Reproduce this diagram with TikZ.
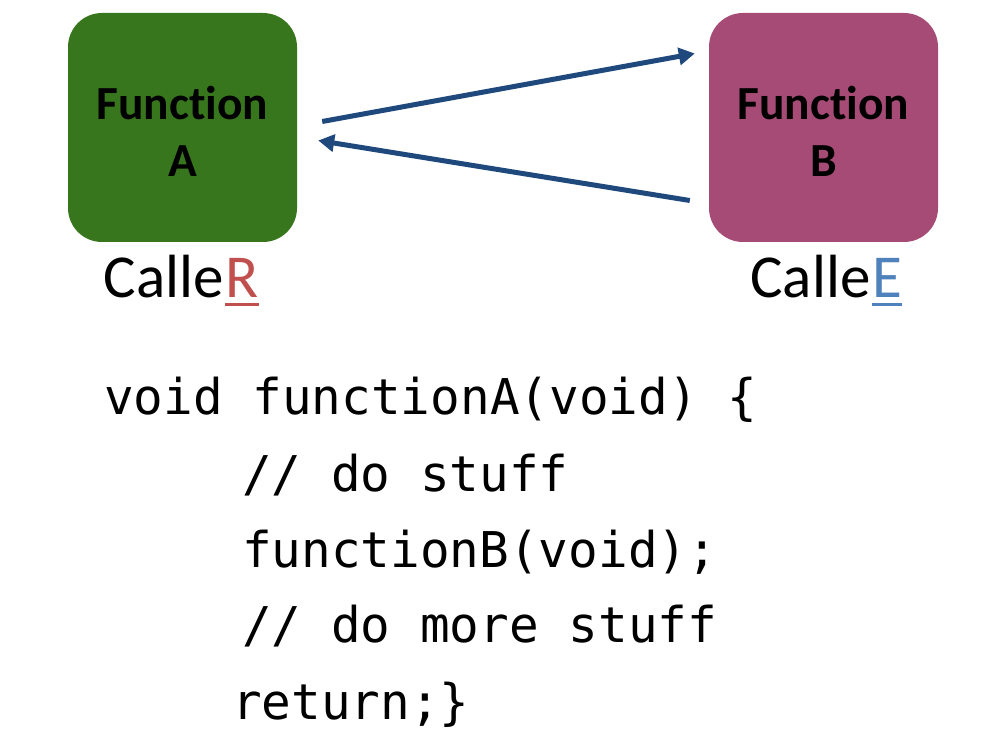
\documentclass[tikz,border=0pt]{standalone}
\usepackage{fontspec}
\setmainfont{Carlito}[RawFeature={-liga}]
\newfontfamily\codefont{DejaVu Sans Mono}
\usetikzlibrary{arrows.meta}
\definecolor{boxgreen}{RGB}{56,118,29}
\definecolor{boxpink}{RGB}{165,75,117}
\definecolor{arrowblue}{RGB}{31,73,125}
\definecolor{redR}{RGB}{192,80,77}
\definecolor{blueE}{RGB}{79,129,189}
\newcommand{\ulcol}[2]{\tikz[baseline=(u.base)]{\node[inner sep=0pt,text=#1](u){#2};\draw[#1,line width=3pt]([yshift=-6pt]u.south west)--([yshift=-6pt]u.south east);}}
\tikzset{
  funcbox/.style={rounded corners=34pt, minimum width=229pt, minimum height=229pt, inner sep=0pt},
  functext/.style={inner sep=0pt, align=center, font=\fontsize{47.5}{57}\selectfont\bfseries},
  callarrow/.style={arrowblue, line width=5pt, -{Triangle[length=16pt,width=17pt]}},
  calllabel/.style={anchor=base, inner sep=0pt, font=\fontsize{61}{61}\selectfont},
  codeline/.style={anchor=base west, inner sep=0pt, font=\codefont\fontsize{49.3}{60}\selectfont}
}
\begin{document}
\begin{tikzpicture}[x=1pt,y=-1pt]
\useasboundingbox (0,0) rectangle (983,738);
\node[funcbox, fill=boxgreen] (A) at (182.5,127.5) {};
\node[funcbox, fill=boxpink] (B) at (823.5,127.5) {};
\node[functext] (tA) at ([yshift=-4pt]A.center) {Function\\A};
\node[functext] (tB) at ([yshift=-4pt]B.center) {Function\\B};
\draw[callarrow] ([xshift=25pt,yshift=6pt]A.east) -- ([xshift=-14pt,yshift=74pt]B.west);
\draw[callarrow] ([xshift=-19pt,yshift=-73pt]B.west) -- ([xshift=21pt,yshift=-13pt]A.east);
\node[calllabel] (caller) at (182,298) {Calle\ulcol{redR}{R}};
\node[calllabel] (callee) at (827,298) {Calle\ulcol{blueE}{E}};
\node[codeline] (c1) at (104,414) {void functionA(void) \{};
\node[codeline] (c2) at (242,491) {// do stuff};
\node[codeline] (c3) at (242,567) {functionB(void);};
\node[codeline] (c4) at (242,642) {// do more stuff};
\node[codeline] (c5) at (232,719) {return;\}};
\end{tikzpicture}
\end{document}
